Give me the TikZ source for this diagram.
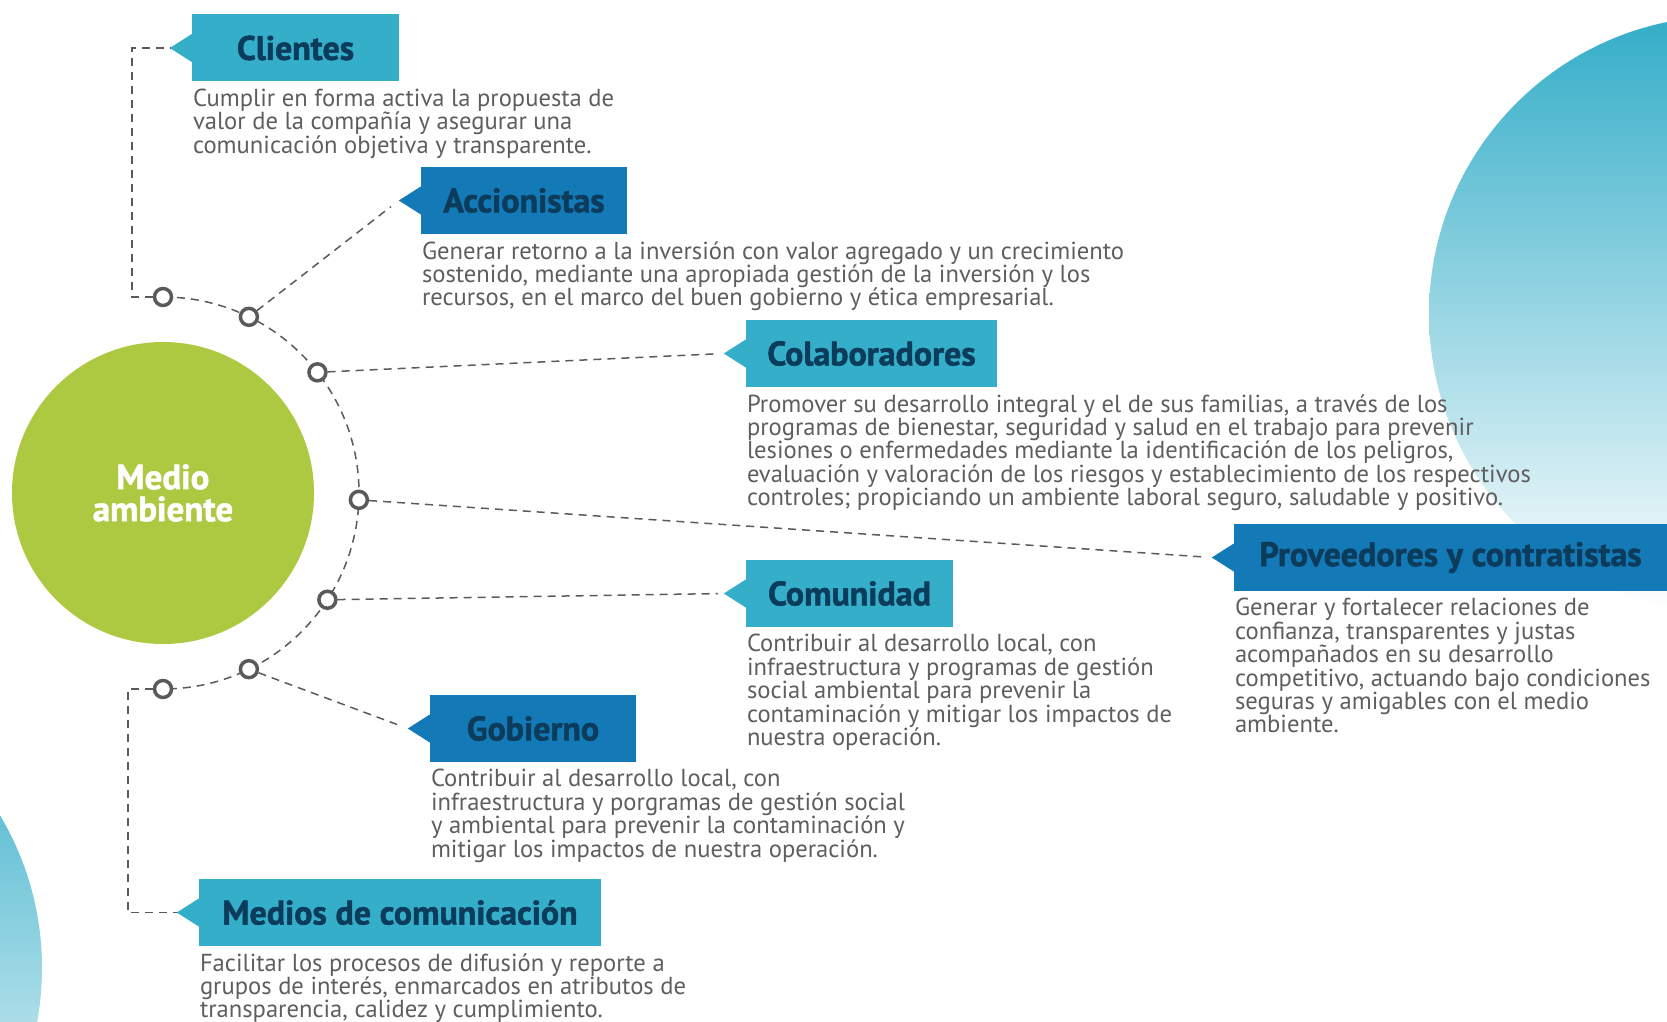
\documentclass[tikz,border=0pt]{standalone}
\usepackage{fontspec}
\setmainfont{PT Sans}
\newfontfamily\tagFont[FakeBold=1.5]{PT Sans}
\usetikzlibrary{calc,positioning}

\definecolor{lightTag}{HTML}{35AFC9}
\definecolor{darkTag}{HTML}{1479B7}
\definecolor{tagText}{HTML}{0C3C5C}
\definecolor{descText}{HTML}{5E5E5E}
\definecolor{midGreen}{HTML}{ADC942}
\definecolor{lineGray}{HTML}{5A5A5A}
\definecolor{bubbleCyan}{HTML}{33ADC8}

\newcommand*{\arcRadius}{196}
\newcommand*{\tipLen}{22}
\newcommand*{\tipHalf}{14}

\tikzset{
	tag/.style={rectangle, minimum height=67pt, inner sep=0pt, text=tagText, font=\tagFont\fontsize{34}{34}\selectfont\bfseries},
	desc/.style={anchor=north west, inner sep=0pt, align=left, text=descText, font=\fontsize{24.6}{23.4}\selectfont},
	link/.style={draw=lineGray, line width=1.5pt, dash pattern=on 8pt off 6pt},
	knot/.style={circle, draw=lineGray, fill=white, line width=3.5pt, minimum size=17pt, inner sep=0pt},
}

\begin{document}
\begin{tikzpicture}[x=1pt, y=-1pt]
	\useasboundingbox (0,0) rectangle (1667,1022);

	% background bubbles
	\begin{scope}
		\clip (0,0) rectangle (1667,1022);
		\shade[top color=bubbleCyan, bottom color=white] (1727,314) circle[radius=298];
		\shade[top color=bubbleCyan, bottom color=white] (-256,968) circle[radius=298];
	\end{scope}

	\node[circle, fill=midGreen, minimum size=302pt, inner sep=0pt, text=white, align=center,
		font=\tagFont\fontsize{35}{32}\selectfont\bfseries] (mid) at (163,493) {Medio\\ambiente};

	\draw[link] ($(mid)+(0,-\arcRadius)$) arc[start angle=-90, end angle=90, radius=\arcRadius];

	\foreach \i/\a in {1/-90, 2/-64, 3/-38, 4/2, 5/33, 6/64, 7/90} {
		\node[knot] (c\i) at ($(mid)+(\a:\arcRadius)$) {};
	}

	% tags
	\node[tag, fill=lightTag, minimum width=207pt] (cli) at (295.5,48) {Clientes};
	\node[tag, fill=darkTag, minimum width=206pt] (acc) at (524,200.5) {Accionistas};
	\node[tag, fill=lightTag, minimum width=251pt] (col) at (871.5,353.5) {Colaboradores};
	\node[tag, fill=darkTag, minimum width=433pt] (pro) at (1450.5,557.5) {Proveedores y contratistas};
	\node[tag, fill=lightTag, minimum width=207pt] (com) at (849.5,593.5) {Comunidad};
	\node[tag, fill=darkTag, minimum width=206pt] (gob) at (533,728.5) {Gobierno};
	\node[tag, fill=lightTag, minimum width=402pt] (med) at (400,912.5) {Medios de comunicación};

	\foreach \n/\c in {cli/lightTag, acc/darkTag, col/lightTag, pro/darkTag, com/lightTag, gob/darkTag, med/lightTag} {
		\fill[\c] ([yshift=\tipHalf pt]\n.west) -- ([xshift=-\tipLen pt]\n.west) -- ([yshift=-\tipHalf pt]\n.west) -- cycle;
		\coordinate (\n-tip) at ([xshift=-\tipLen pt]\n.west);
	}

	% descriptions
	\node[desc, below right=7pt and 1pt of cli.south west] (cli-d) {Cumplir en forma activa la propuesta de\\valor de la compañía y asegurar una\\comunicación objetiva y transparente.};
	\node[desc, below right=7pt and 1pt of acc.south west] (acc-d) {Generar retorno a la inversión con valor agregado y un crecimiento\\sostenido, mediante una apropiada gestión de la inversión y los\\recursos, en el marco del buen gobierno y ética empresarial.};
	\node[desc, below right=7pt and 1pt of col.south west] (col-d) {Promover su desarrollo integral y el de sus familias, a través de los\\programas de bienestar, seguridad y salud en el trabajo para prevenir\\lesiones o enfermedades mediante la identificación de los peligros,\\evaluación y valoración de los riesgos y establecimiento de los respectivos\\controles; propiciando un ambiente laboral seguro, saludable y positivo.};
	\node[desc, below right=7pt and 1pt of pro.south west] (pro-d) {Generar y fortalecer relaciones de\\confianza, transparentes y justas\\acompañados en su desarrollo\\competitivo, actuando bajo condiciones\\seguras y amigables con el medio\\ambiente.};
	\node[desc, below right=7pt and 1pt of com.south west] (com-d) {Contribuir al desarrollo local, con\\infraestructura y programas de gestión\\social ambiental para prevenir la\\contaminación y mitigar los impactos de\\nuestra operación.};
	\node[desc, below right=7pt and 1pt of gob.south west] (gob-d) {Contribuir al desarrollo local, con\\infraestructura y porgramas de gestión social\\y ambiental para prevenir la contaminación y\\mitigar los impactos de nuestra operación.};
	\node[desc, below right=7pt and 1pt of med.south west] (med-d) {Facilitar los procesos de difusión y reporte a\\grupos de interés, enmarcados en atributos de\\transparencia, calidez y cumplimiento.};

	% dashed links
	\draw[link] (c1.west) -- ++(-21,0) |- (cli-tip);
	\draw[link, shorten >=10pt] (c2) -- (acc-tip);
	\draw[link, shorten >=6pt] (c3) -- (col-tip);
	\draw[link, shorten >=6pt] (c4) -- (pro-tip);
	\draw[link, shorten >=6pt] (c5) -- (com-tip);
	\draw[link, shorten >=8pt] (c6) -- (gob-tip);
	\draw[link] (c7.west) -- ++(-25,0) |- (med-tip);
\end{tikzpicture}
\end{document}
